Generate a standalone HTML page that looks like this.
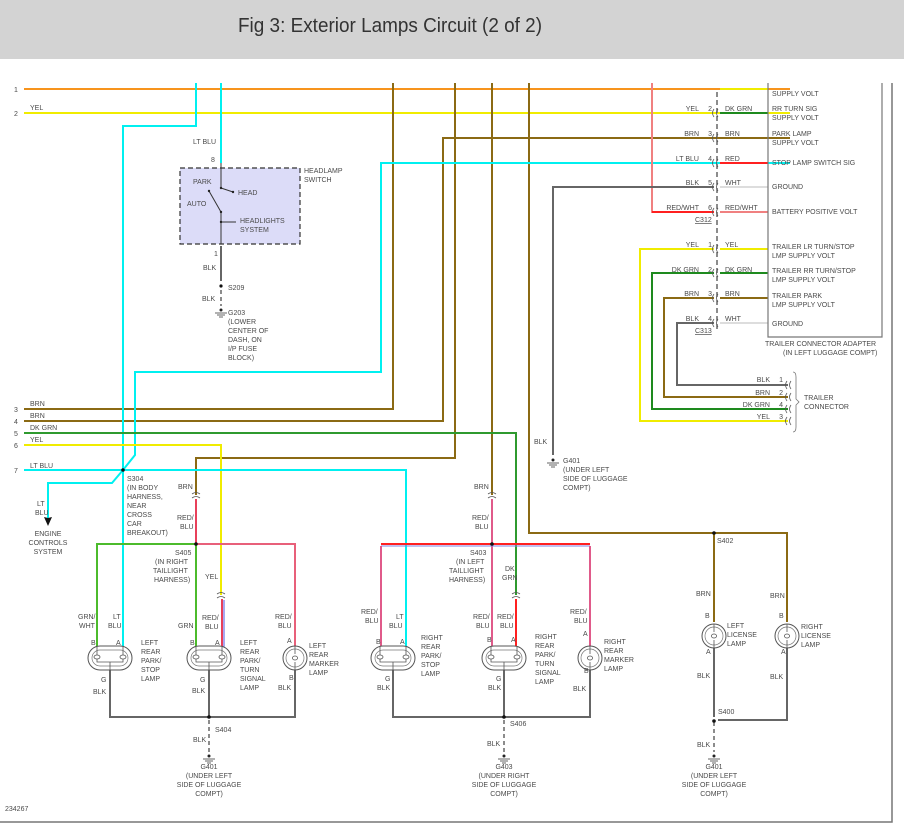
<!DOCTYPE html>
<html><head><meta charset="utf-8"><style>
body{margin:0;background:#fff;width:904px;height:823px;overflow:hidden}
svg{display:block}
text{font-family:"Liberation Sans",sans-serif;font-size:7px;fill:#4a4a4a}
.w{fill:none;stroke-width:2}
</style></head><body>
<svg width="904" height="823" viewBox="0 0 904 823" xmlns="http://www.w3.org/2000/svg">
<defs>
<clipPath id="c"><rect x="0" y="83" width="904" height="740"/></clipPath>
<g id="dl">
<rect x="-22" y="-12" width="44" height="24" rx="12" fill="#fff" stroke="#555" stroke-width="1"/>
<rect x="-18" y="-8" width="36" height="16" rx="8" fill="none" stroke="#777" stroke-width="0.7"/>
<ellipse cx="-13" cy="-1" rx="3" ry="2" fill="none" stroke="#555" stroke-width="0.8"/>
<ellipse cx="13" cy="-1" rx="3" ry="2" fill="none" stroke="#555" stroke-width="0.8"/>
<path d="M-13,-12V-3M13,-12V-3M-13,1V4H13V1M0,4V12" fill="none" stroke="#555" stroke-width="0.8"/>
</g>
<g id="sl">
<circle r="12" fill="#fff" stroke="#555" stroke-width="1"/>
<circle r="9" fill="none" stroke="#777" stroke-width="0.7"/>
<path d="M0,-12V-4M0,4V12" stroke="#555" stroke-width="0.8"/>
<ellipse cx="0" cy="0" rx="2.5" ry="2" fill="none" stroke="#555" stroke-width="0.8"/>
</g>
<g id="gnd"><circle cx="0" cy="0" r="1.5" fill="#222"/><path d="M-6,3H6M-4,5H4M-2,7H2" stroke="#333" stroke-width="0.8"/></g>
<g id="cn"><path d="M-3,-4Q-6,0 -3,4M1,-4Q-2,0 1,4" fill="none" stroke="#555" stroke-width="0.8"/></g>
<g id="cv"><path d="M-4,-3Q0,-6 4,-3M-4,1Q0,-2 4,1" fill="none" stroke="#555" stroke-width="0.8"/></g>
</defs>
<rect x="0" y="0" width="904" height="59" fill="#d3d3d3"/>
<text x="238" y="32" style="font-size:20px;fill:#333" textLength="304" lengthAdjust="spacingAndGlyphs">Fig 3: Exterior Lamps Circuit (2 of 2)</text>
<path d="M892,83V822H0" fill="none" stroke="#777" stroke-width="1.5"/>
<g clip-path="url(#c)">
<path class="w" stroke="#f7941d" d="M24,89H790"/>
<path class="w" stroke="#f0ec00" d="M24,113H790"/>
<path class="w" stroke="#8b6a14" d="M393,70V409H24"/>
<path class="w" stroke="#8b6a14" d="M790,138H443V421H24"/>
<path class="w" stroke="#8b6a14" d="M455,70V458H196V495"/>
<path class="w" stroke="#8b6a14" d="M492,70V495"/>
<path class="w" stroke="#8b6a14" d="M529,70V533H787V622"/>
<path class="w" stroke="#8b6a14" d="M714,533V622"/>
<path class="w" stroke="#00f0f0" d="M196,70V126H123V648"/>
<path class="w" stroke="#00f0f0" d="M221,70V163"/>
<path class="w" stroke="#00f0f0" d="M790,163H381V372H135V455L123,470L112,483H48V518"/>
<path class="w" stroke="#2f9a2f" d="M24,433H516V595"/>
<path class="w" stroke="#f0ec00" d="M24,445H221V595"/>
<path class="w" stroke="#00f0f0" d="M24,470H406V648"/>
<path class="w" stroke="#f08080" d="M652,70V212H714"/>
<path class="w" stroke="#ff2020" d="M652,212H714"/>
<path class="w" stroke="#666" d="M714,187H553V455"/>
<path class="w" stroke="#f0ec00" d="M720,89H768"/>
<path class="w" stroke="#1e8a1e" d="M720,113H768"/>
<path class="w" stroke="#8b6a14" d="M720,138H768"/>
<path class="w" stroke="#ff2020" d="M720,163H768"/>
<path class="w" stroke="#ddd" d="M720,187H768"/>
<path class="w" stroke="#f08080" d="M720,212H768"/>
<path class="w" stroke="#f0ec00" d="M714,249H640V421H788M720,249H768"/>
<path class="w" stroke="#1e8a1e" d="M714,273H652V409H788M720,273H768"/>
<path class="w" stroke="#8b6a14" d="M714,298H664V397H788M720,298H768"/>
<path class="w" stroke="#666" d="M714,323H677V385H788"/>
<path class="w" stroke="#ddd" d="M720,323H768"/>
<path d="M768,70V337H882V70" fill="none" stroke="#777" stroke-width="1.2"/>
<path d="M717,92V330" stroke="#666" stroke-width="1.5" stroke-dasharray="5,3"/>
</g>
<use href="#cn" x="717" y="113"/><use href="#cn" x="717" y="138"/><use href="#cn" x="717" y="163"/><use href="#cn" x="717" y="187"/><use href="#cn" x="717" y="212"/>
<use href="#cn" x="717" y="249"/><use href="#cn" x="717" y="273"/><use href="#cn" x="717" y="298"/><use href="#cn" x="717" y="323"/>
<use href="#cn" x="790" y="385"/><use href="#cn" x="790" y="397"/><use href="#cn" x="790" y="409"/><use href="#cn" x="790" y="421"/>
<path d="M793,372q3,0 3,5V399l3,3l-3,3V427q0,5-3,5" fill="none" stroke="#777" stroke-width="0.8"/>
<path d="M48,518l-4,-1l4,9l4,-9z" fill="#111"/>
<!-- headlamp switch -->
<rect x="180" y="168" width="120" height="76" fill="#dcdcf8" stroke="#333" stroke-width="1.2" stroke-dasharray="5,3"/>
<path d="M221,163V188L233,192M209,191L221,212V244M221,222H236" fill="none" stroke="#333" stroke-width="1"/>
<circle cx="221" cy="188" r="1.2" fill="#222"/><circle cx="233" cy="192" r="1.2" fill="#222"/><circle cx="209" cy="191" r="1.2" fill="#222"/><circle cx="221" cy="212" r="1.2" fill="#222"/><circle cx="221" cy="222" r="1.2" fill="#222"/>
<path class="w" stroke="#666" d="M221,246V281"/>
<path d="M221,290V306" stroke="#666" stroke-width="1.5" stroke-dasharray="4,3"/>
<circle cx="221" cy="286" r="1.6" fill="#111"/>
<use href="#gnd" x="221" y="310"/>
<!-- bottom left -->
<path class="w" stroke="#e8405a" d="M196,499V544"/>
<path class="w" stroke="#4cbb2c" d="M196,544H97V648M196,544V648"/>
<path class="w" stroke="#e8607a" d="M196,544H295V646"/>
<path class="w" stroke="#e8405a" d="M222,599V648"/>
<path d="M224,600V648" stroke="#5050e0" stroke-width="1"/>
<path class="w" stroke="#666" d="M110,670V717H295V670M209,670V717"/>
<path d="M209,720V752" stroke="#666" stroke-width="1.5" stroke-dasharray="4,3"/>
<circle cx="196" cy="544" r="1.8" fill="#111"/><circle cx="209" cy="717" r="1.8" fill="#111"/><circle cx="123" cy="470" r="1.8" fill="#111"/>
<use href="#gnd" x="209" y="756"/>
<use href="#cv" x="196" y="497"/><use href="#cv" x="221" y="597"/>
<use href="#dl" x="110" y="658"/><use href="#dl" x="209" y="658"/><use href="#sl" x="295" y="658"/>
<!-- bottom mid -->
<path class="w" stroke="#e05a8a" d="M492,499V648"/>
<path class="w" stroke="#ff2020" d="M381,544H590"/>
<path d="M381,546H590" stroke="#8080e0" stroke-width="1"/>
<path class="w" stroke="#e05a8a" d="M381,546V648M590,546V646"/>
<path class="w" stroke="#ff2020" d="M516,599V648"/>
<path class="w" stroke="#666" d="M393,670V717H590V670M504,670V717"/>
<path d="M504,720V752" stroke="#666" stroke-width="1.5" stroke-dasharray="4,3"/>
<circle cx="492" cy="544" r="1.8" fill="#111"/><circle cx="504" cy="717" r="1.8" fill="#111"/>
<use href="#gnd" x="504" y="756"/>
<use href="#cv" x="492" y="497"/><use href="#cv" x="516" y="597"/>
<use href="#dl" x="393" y="658"/><use href="#dl" x="504" y="658"/><use href="#sl" x="590" y="658"/>
<!-- license -->
<path class="w" stroke="#666" d="M714,648V717M787,648V720H718"/>
<path d="M714,722V752" stroke="#666" stroke-width="1.5" stroke-dasharray="4,3"/>
<circle cx="714" cy="533" r="1.8" fill="#111"/><circle cx="714" cy="721" r="1.8" fill="#111"/>
<use href="#gnd" x="714" y="756"/>
<use href="#sl" x="714" y="636"/><use href="#sl" x="787" y="636"/>
<use href="#gnd" x="553" y="460"/>
<!-- texts -->
<g>
<text x="14" y="92">1</text><text x="14" y="116">2</text><text x="14" y="412">3</text><text x="14" y="424">4</text><text x="14" y="436">5</text><text x="14" y="448">6</text><text x="14" y="473">7</text>
<text x="30" y="110">YEL</text><text x="30" y="406">BRN</text><text x="30" y="418">BRN</text><text x="30" y="430">DK GRN</text><text x="30" y="442">YEL</text><text x="30" y="468">LT BLU</text>
<text x="193" y="144">LT BLU</text><text x="211" y="162">8</text><text x="214" y="256">1</text>
<text x="193" y="184">PARK</text><text x="238" y="195">HEAD</text><text x="187" y="206">AUTO</text><text x="240" y="223">HEADLIGHTS</text><text x="240" y="232">SYSTEM</text>
<text x="304" y="173">HEADLAMP</text><text x="304" y="182">SWITCH</text>
<text x="203" y="270">BLK</text><text x="228" y="290">S209</text><text x="202" y="301">BLK</text>
<text x="228" y="315">G203</text><text x="228" y="324">(LOWER</text><text x="228" y="333">CENTER OF</text><text x="228" y="342">DASH, ON</text><text x="228" y="351">I/P FUSE</text><text x="228" y="360">BLOCK)</text>
<g text-anchor="end"><text x="699" y="111">YEL</text><text x="699" y="136">BRN</text><text x="699" y="161">LT BLU</text><text x="699" y="185">BLK</text><text x="699" y="210">RED/WHT</text>
<text x="712" y="111">2</text><text x="712" y="136">3</text><text x="712" y="161">4</text><text x="712" y="185">5</text><text x="712" y="210">6</text>
<text x="699" y="247">YEL</text><text x="699" y="272">DK GRN</text><text x="699" y="296">BRN</text><text x="699" y="321">BLK</text>
<text x="712" y="247">1</text><text x="712" y="272">2</text><text x="712" y="296">3</text><text x="712" y="321">4</text>
<text x="770" y="382">BLK</text><text x="770" y="395">BRN</text><text x="770" y="407">DK GRN</text><text x="770" y="419">YEL</text>
<text x="783" y="382">1</text><text x="783" y="395">2</text><text x="783" y="407">4</text><text x="783" y="419">3</text></g>
<text x="725" y="111">DK GRN</text><text x="725" y="136">BRN</text><text x="725" y="161">RED</text><text x="725" y="185">WHT</text><text x="725" y="210">RED/WHT</text>
<text x="725" y="247">YEL</text><text x="725" y="272">DK GRN</text><text x="725" y="296">BRN</text><text x="725" y="321">WHT</text>
<text x="695" y="222" text-decoration="underline">C312</text><text x="695" y="333" text-decoration="underline">C313</text>
<text x="772" y="96">SUPPLY VOLT</text><text x="772" y="111">RR TURN SIG</text><text x="772" y="120">SUPPLY VOLT</text>
<text x="772" y="136">PARK LAMP</text><text x="772" y="145">SUPPLY VOLT</text><text x="772" y="165">STOP LAMP SWITCH SIG</text>
<text x="772" y="189">GROUND</text><text x="772" y="214">BATTERY POSITIVE VOLT</text>
<text x="772" y="249">TRAILER LR TURN/STOP</text><text x="772" y="258">LMP SUPPLY VOLT</text>
<text x="772" y="273">TRAILER RR TURN/STOP</text><text x="772" y="282">LMP SUPPLY VOLT</text>
<text x="772" y="298">TRAILER PARK</text><text x="772" y="307">LMP SUPPLY VOLT</text><text x="772" y="326">GROUND</text>
<text x="765" y="346">TRAILER CONNECTOR ADAPTER</text><text x="783" y="355">(IN LEFT LUGGAGE COMPT)</text>
<text x="804" y="400">TRAILER</text><text x="804" y="409">CONNECTOR</text>
<text x="534" y="444">BLK</text><text x="563" y="463">G401</text><text x="563" y="472">(UNDER LEFT</text><text x="563" y="481">SIDE OF LUGGAGE</text><text x="563" y="490">COMPT)</text>
<text x="127" y="481">S304</text><text x="127" y="490">(IN BODY</text><text x="127" y="499">HARNESS,</text><text x="127" y="508">NEAR</text><text x="127" y="517">CROSS</text><text x="127" y="526">CAR</text><text x="127" y="535">BREAKOUT)</text>
<text x="37" y="506">LT</text><text x="35" y="515">BLU</text>
<g text-anchor="middle"><text x="48" y="536">ENGINE</text><text x="48" y="545">CONTROLS</text><text x="48" y="554">SYSTEM</text>
<text x="209" y="769">G401</text><text x="209" y="778">(UNDER LEFT</text><text x="209" y="787">SIDE OF LUGGAGE</text><text x="209" y="796">COMPT)</text>
<text x="504" y="769">G403</text><text x="504" y="778">(UNDER RIGHT</text><text x="504" y="787">SIDE OF LUGGAGE</text><text x="504" y="796">COMPT)</text>
<text x="714" y="769">G401</text><text x="714" y="778">(UNDER LEFT</text><text x="714" y="787">SIDE OF LUGGAGE</text><text x="714" y="796">COMPT)</text></g>
<text x="178" y="489">BRN</text><text x="177" y="520">RED/</text><text x="180" y="529">BLU</text>
<text x="175" y="555">S405</text><text x="155" y="564">(IN RIGHT</text><text x="153" y="573">TAILLIGHT</text><text x="154" y="582">HARNESS)</text><text x="205" y="579">YEL</text>
<text x="78" y="619">GRN/</text><text x="79" y="628">WHT</text><text x="113" y="619">LT</text><text x="108" y="628">BLU</text>
<text x="178" y="628">GRN</text><text x="202" y="620">RED/</text><text x="205" y="629">BLU</text><text x="275" y="619">RED/</text><text x="278" y="628">BLU</text>
<text x="91" y="645">B</text><text x="116" y="645">A</text><text x="190" y="645">B</text><text x="215" y="645">A</text><text x="287" y="643">A</text>
<text x="141" y="645">LEFT</text><text x="141" y="654">REAR</text><text x="141" y="663">PARK/</text><text x="141" y="672">STOP</text><text x="141" y="681">LAMP</text>
<text x="240" y="645">LEFT</text><text x="240" y="654">REAR</text><text x="240" y="663">PARK/</text><text x="240" y="672">TURN</text><text x="240" y="681">SIGNAL</text><text x="240" y="690">LAMP</text>
<text x="309" y="648">LEFT</text><text x="309" y="657">REAR</text><text x="309" y="666">MARKER</text><text x="309" y="675">LAMP</text>
<text x="101" y="682">G</text><text x="200" y="682">G</text><text x="289" y="680">B</text>
<text x="93" y="694">BLK</text><text x="192" y="693">BLK</text><text x="278" y="690">BLK</text>
<text x="215" y="732">S404</text><text x="193" y="742">BLK</text>
<text x="474" y="489">BRN</text><text x="472" y="520">RED/</text><text x="475" y="529">BLU</text>
<text x="470" y="555">S403</text><text x="456" y="564">(IN LEFT</text><text x="449" y="573">TAILLIGHT</text><text x="449" y="582">HARNESS)</text>
<text x="505" y="571">DK</text><text x="502" y="580">GRN</text>
<text x="361" y="614">RED/</text><text x="365" y="623">BLU</text><text x="396" y="619">LT</text><text x="389" y="628">BLU</text>
<text x="473" y="619">RED/</text><text x="476" y="628">BLU</text><text x="497" y="619">RED/</text><text x="500" y="628">BLU</text>
<text x="570" y="614">RED/</text><text x="574" y="623">BLU</text>
<text x="376" y="644">B</text><text x="400" y="644">A</text><text x="487" y="642">B</text><text x="511" y="642">A</text><text x="583" y="636">A</text>
<text x="421" y="640">RIGHT</text><text x="421" y="649">REAR</text><text x="421" y="658">PARK/</text><text x="421" y="667">STOP</text><text x="421" y="676">LAMP</text>
<text x="535" y="639">RIGHT</text><text x="535" y="648">REAR</text><text x="535" y="657">PARK/</text><text x="535" y="666">TURN</text><text x="535" y="675">SIGNAL</text><text x="535" y="684">LAMP</text>
<text x="604" y="644">RIGHT</text><text x="604" y="653">REAR</text><text x="604" y="662">MARKER</text><text x="604" y="671">LAMP</text>
<text x="385" y="681">G</text><text x="496" y="681">G</text><text x="584" y="673">B</text>
<text x="377" y="690">BLK</text><text x="488" y="690">BLK</text><text x="573" y="691">BLK</text>
<text x="510" y="726">S406</text><text x="487" y="746">BLK</text>
<text x="717" y="543">S402</text><text x="696" y="596">BRN</text><text x="770" y="598">BRN</text>
<text x="705" y="618">B</text><text x="779" y="618">B</text><text x="706" y="654">A</text><text x="781" y="654">A</text>
<text x="727" y="628">LEFT</text><text x="727" y="637">LICENSE</text><text x="727" y="646">LAMP</text>
<text x="801" y="629">RIGHT</text><text x="801" y="638">LICENSE</text><text x="801" y="647">LAMP</text>
<text x="697" y="678">BLK</text><text x="770" y="679">BLK</text><text x="718" y="714">S400</text><text x="697" y="747">BLK</text>
<text x="5" y="811">234267</text>
</g>
</svg>
</body></html>
